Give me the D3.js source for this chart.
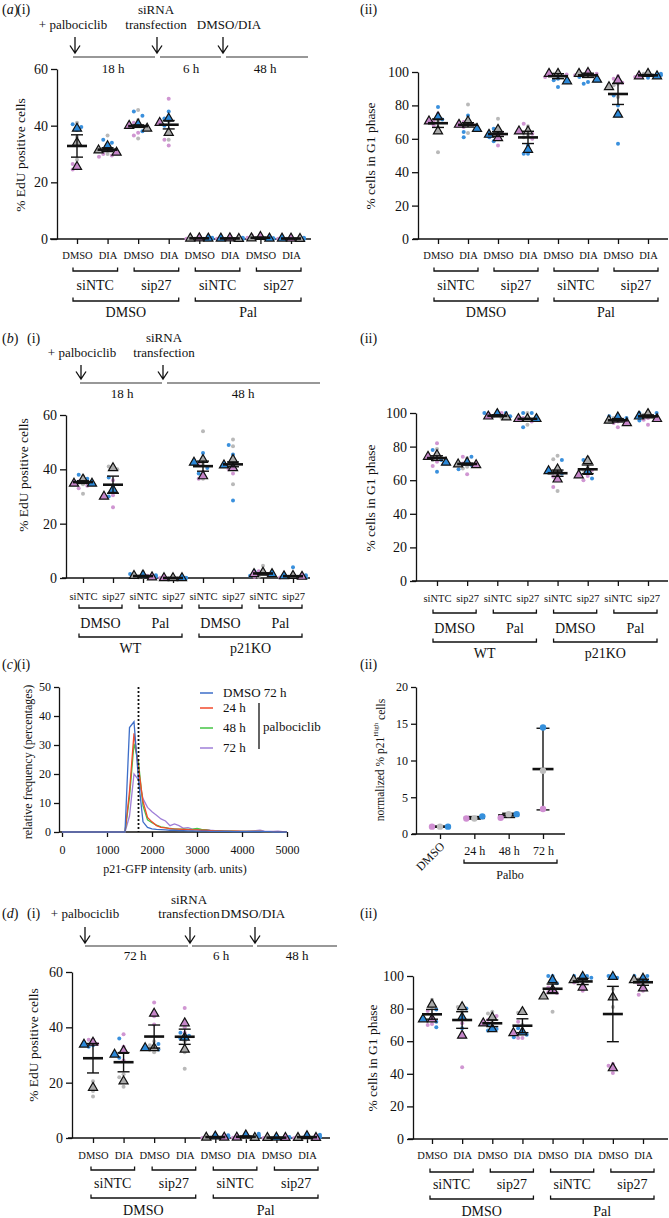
<!DOCTYPE html>
<html>
<head>
<meta charset="utf-8">
<script src="https://cdn.jsdelivr.net/npm/d3@7"></script>
<style>
  body { margin: 0; background: #fff; }
  svg { display: block; font-family: "Liberation Serif", "Times New Roman", serif; }
</style>
</head>
<body>
<svg id="fig" width="669" height="1218"></svg>
<script>
// ---- data ----
// replicate order everywhere: gray, pink, blue
const repNames = ['gray', 'pink', 'blue'];

const aTicks = ['DMSO', 'DIA', 'DMSO', 'DIA', 'DMSO', 'DIA', 'DMSO', 'DIA'];
const aGroups = ['siNTC', 'sip27', 'siNTC', 'sip27'];
const aTreat = ['DMSO', 'Pal'];
const bTicks = ['siNTC', 'sip27', 'siNTC', 'sip27', 'siNTC', 'sip27', 'siNTC', 'sip27'];
const bGroups = ['DMSO', 'Pal', 'DMSO', 'Pal'];
const bLines = ['WT', 'p21KO'];

const edu = '% EdU positive cells';
const g1 = '% cells in G1 phase';

const aSteps = ['+ palbociclib', ['siRNA', 'transfection'], 'DMSO/DIA'];
const aDurs = ['18 h', '6 h', '48 h'];
const bSteps = ['+ palbociclib', ['siRNA', 'transfection']];
const bDurs = ['18 h', '48 h'];
const dSteps = ['+ palbociclib', ['siRNA', 'transfection'], 'DMSO/DIA'];
const dDurs = ['72 h', '6 h', '48 h'];

// (a)(i) replicate means [gray, pink, blue] per condition
const a1Tri = [[34, 25.5, 39], [31.3, 30.5, 32.8], [39, 40, 40.5], [37.5, 41, 42.5],
  [0.2, 0.3, 0.2], [0.1, 0.3, 0.2], [0.3, 0.8, 0.2], [0.1, 0.2, 0.2]];
const a1Dots = [
  [[41, 36, 28], [26.5, 25, 24.5], [40.5, 39.5, 38.5]],
  [[36.5, 33, 30], [30, 29.5, 29], [35, 34, 31]],
  [[45.5, 42, 35.5], [41, 37.5, 36.5], [45, 43.5, 38]],
  [[41.5, 38, 35], [49.5, 35, 33], [45, 42.5, 40]],
  [[0.5, 0.2, 0.1], [0.6, 0.3, 0.1], [0.4, 0.2, 0.1]],
  [[0.3, 0.1, 0], [0.5, 0.3, 0.1], [0.4, 0.2, 0]],
  [[0.5, 0.2, 0.1], [1.2, 0.7, 0.4], [0.3, 0.2, 0.1]],
  [[0.2, 0.1, 0], [0.3, 0.2, 0.1], [0.4, 0.2, 0]]];

// (a)(ii)
const a2Tri = [[64.5, 70.5, 73], [70.5, 68.5, 66], [65.5, 60.5, 62.5], [64.5, 64.5, 53.5],
  [99, 99, 94.5], [99, 99.5, 95.5], [91, 95, 74.5], [99, 97.5, 97.5]];
const a2Dots = [
  [[71, 67, 52], [75, 71, 68], [79, 71.5, 70]],
  [[80.5, 69, 63.5], [70, 67, 68.5], [74, 64, 61]],
  [[72, 64, 62], [63, 60, 56], [66, 61, 58.5]],
  [[67.5, 62, 61], [69, 63, 60], [56, 51, 51]],
  [[99.5, 99, 98], [99, 98.5, 97], [96, 95, 91]],
  [[99, 98.5, 98], [100, 99, 98], [97, 94, 93]],
  [[93, 92, 85], [97.5, 96, 93.5], [86, 80, 57]],
  [[99.5, 99, 98], [98.5, 98, 97], [99, 98, 96.5]]];

// (b)(i)
const b1Tri = [[36.3, 34.8, 34.8], [40.5, 30, 32.5], [0.8, 0.3, 1.0], [0, 0, 0],
  [43.5, 37.5, 42.5], [43.5, 40.5, 41.5], [2, 1.5, 1.5], [0.8, 0.5, 0.7]];
const b1Dots = [
  [[37.5, 34.5, 31], [35.5, 34, 33], [38, 36.5, 35.5]],
  [[41, 41, 40], [36, 30.5, 26], [37, 34, 30]],
  [[2.2, 0.5, 0.2], [0.8, 0.3, 0.1], [1.5, 1, 0.5]],
  [[0.1, 0, 0], [0.1, 0, 0], [0.1, 0, 0]],
  [[54, 42, 36.5], [42, 39, 36.5], [46, 40.5, 38.5]],
  [[51, 48.5, 34.5], [41, 40, 38.5], [49, 45.5, 28.5]],
  [[4.5, 2, 0.5], [2.5, 1.5, 0.5], [2.5, 1.5, 0.8]],
  [[1.5, 0.5, 0.2], [1, 0.5, 0.2], [4, 1, 0.2]]];

// (b)(ii)
const b2Tri = [[75, 74, 70.5], [69.5, 69, 70.5], [97.5, 98, 99.5], [96.5, 96.5, 96.5],
  [66.5, 60.5, 65.5], [71.5, 63, 65], [95.5, 94, 97.5], [99.5, 96.5, 98]];
const b2Dots = [
  [[78.5, 74, 72], [82, 71, 68.5], [78, 72, 65]],
  [[73, 68, 67], [74, 70, 63.5], [74, 69, 66.5]],
  [[99, 98, 97], [100, 99.5, 97], [100, 100, 98]],
  [[100, 96, 93], [97, 95, 96], [100, 100, 91.5]],
  [[74.5, 72.5, 53.5], [63, 62, 56], [72, 66, 64]],
  [[73.5, 68, 66], [66, 62.5, 60], [72, 64, 61]],
  [[98.5, 97, 96], [95, 94, 91.5], [98, 97, 95]],
  [[100, 99, 98], [97, 96, 93], [100, 100, 95.5]]];

// (c)(i) histogram of p21-GFP intensity
const cBins = [0, 1400, 1500, 1600, 1700, 1800, 1900, 2000, 2100, 2200, 2300, 2400, 2500, 2600,
  2700, 2800, 2900, 3000, 3100, 3200, 3300, 3400, 3500, 3600, 3700, 3800, 3900, 4000, 4100,
  4200, 4300, 4400, 4500, 4600, 4700, 4800, 4900, 5000];
const cDmso72 = [0, 0, 36, 38, 18, 3.5, 1.6, 1.1, 0.9, 0.8, 0.7, 0.6, 0.6, 0.5, 0.5, 0.4, 0.4, 0.3,
  0.3, 0.3, 0.2, 0.2, 0.2, 0.2, 0.2, 0.1, 0.1, 0.1, 0.1, 0.1, 0.1, 0.1, 0.1, 0.1, 0, 0, 0, 0];
const cPal24 = [0, 0, 14, 34, 22, 10.5, 5, 3.5, 2.2, 1.6, 1.4, 1.2, 1.0, 1.0, 0.9, 0.8, 0.7, 0.7,
  0.6, 0.6, 0.5, 0.4, 0.4, 0.3, 0.3, 0.3, 0.3, 0.2, 0.2, 0.2, 0.2, 0.2, 0.1, 0.1, 0.1, 0.1, 0.1, 0];
const cPal48 = [0, 0, 12, 30.5, 24, 9, 4.2, 3.2, 2.4, 1.8, 1.5, 1.2, 1.1, 1.0, 1.0, 0.9, 1.0, 1.2,
  0.9, 0.7, 0.5, 0.4, 0.4, 0.3, 0.3, 0.3, 0.2, 0.2, 0.2, 0.2, 0.2, 0.2, 0.1, 0.1, 0.1, 0.1, 0.1, 0];
const cPal72 = [0, 0, 5.5, 20, 18, 11.5, 8.5, 7, 5.8, 4.5, 3.8, 2.2, 2.8, 2.2, 1.3, 1.5, 1.0, 0.8,
  0.8, 0.8, 0.6, 0.5, 0.5, 0.4, 0.3, 0.3, 0.3, 0.3, 0.3, 0.4, 0.5, 0.6, 0.3, 0.2, 0.2, 0.3, 0.1, 0];
const cSeriesNames = ['DMSO 72 h', '24 h', '48 h', '72 h'];
const cGate = 1700;

// (c)(ii)
const c2Cats = ['DMSO', '24 h', '48 h', '72 h'];
const c2Vals = [[1, 1, 1], [2.1, 2.1, 2.4], [2.7, 2.2, 2.7], [8.6, 3.4, 14.5]];

// (d)(i)
const d1Tri = [[18.2, 34.5, 33.8], [20.5, 31.5, 30.2], [32.5, 45, 32.5], [32, 41.5, 36.3],
  [0.2, 0.2, 0.6], [0.1, 0.2, 1.0], [0.1, 0.1, 0.2], [0.1, 0.1, 0.7]];
const d1Dots = [
  [[20.5, 17, 15], [35.5, 35.5, 34], [34, 33.5, 33]],
  [[23, 22, 18.5], [37.5, 33, 28], [36, 31, 29]],
  [[35, 33.5, 31], [49, 44, 41], [34, 33, 32]],
  [[35, 31, 25], [47, 40, 38], [38, 37, 36]],
  [[0.3, 0.1, 0], [0.4, 0.2, 0], [1, 0.6, 0.2]],
  [[0.2, 0.1, 0], [0.3, 0.2, 0.1], [1.5, 1, 0.5]],
  [[0.2, 0.1, 0], [0.2, 0.1, 0], [0.4, 0.2, 0.1]],
  [[0.2, 0.1, 0], [0.2, 0.1, 0], [1.2, 0.7, 0.3]]];

// (d)(ii)
const d2Tri = [[82.5, 73.5, 73.5], [81, 63.5, 74.5], [74.5, 71, 67.5], [78, 65, 65.5],
  [87.5, 91.5, 97.5], [97.5, 93, 99.5], [87, 43.5, 99.5], [97.5, 92.5, 98.5]];
const d2Dots = [
  [[85.5, 81, 75], [78.5, 70.5, 70], [79.5, 72, 68.5]],
  [[81.5, 81, 78], [71, 65, 44], [80, 74, 68]],
  [[78, 77, 72], [75.5, 73, 69], [70, 67.5, 66.5]],
  [[78, 77.5, 70], [72, 62, 62], [68, 64, 62.5]],
  [[95, 91, 78], [93, 90, 89.5], [100, 100, 95.5]],
  [[98, 98, 97], [96, 95, 91], [100, 100, 99]],
  [[92, 88, 81], [46, 45, 40.5], [100, 100, 99]],
  [[99, 98, 96], [95, 91, 88.5], [100, 100, 97]]];

// ---- styles ----
const triFill = { gray: '#a9a9a9', pink: '#c585c8', blue: '#2b88d8' };
const dotFill = { gray: '#b9b9b9', pink: '#d096d2', blue: '#3a90dd' };
const c2Fill = { gray: '#bdbdbd', pink: '#d08fd2', blue: '#3590dc' };
const lineCols = ['#3d6ec8', '#f24a2c', '#45c545', '#9f7fd8'];
const INK = '#111';

const svg = d3.select('#fig');

function txt(s, x, y, size, anchor = 'middle', g = svg) {
  return g.append('text').attr('x', x).attr('y', y).attr('font-size', size)
    .attr('text-anchor', anchor).attr('fill', INK).text(s);
}

function panelLabel(letter, roman, x, xr, y) {
  if (letter) {
    const t = svg.append('text').attr('x', x).attr('y', y).attr('font-size', 14).attr('fill', INK);
    t.append('tspan').text('(');
    t.append('tspan').attr('font-style', 'italic').text(letter);
    t.append('tspan').text(')');
  }
  txt('(' + roman + ')', xr, y, 14, 'start');
}

function styleAxis(a, size) {
  a.selectAll('path, line').attr('stroke', INK).attr('stroke-width', 1.3);
  a.selectAll('text').attr('font-family', null).attr('font-size', size).attr('fill', INK);
  a.attr('font-family', null);
}

// tiny beeswarm: keeps the markers of one column from sitting on each other
function swarm(items, y, step, minD, maxK) {
  const placed = [];
  items.forEach(it => {
    it.py = y(it.v);
    let off = 0;
    for (let k = 0; k <= maxK * 2; k++) {
      const c = k === 0 ? 0 : (k % 2 ? -1 : 1) * Math.ceil(k / 2) * step;
      off = c;
      if (placed.every(q => Math.hypot(q.dx - c, q.py - it.py) >= minD)) break;
    }
    it.dx = off;
    placed.push(it);
  });
  return items;
}

function bracket(g, xa, xb, yy) {
  g.append('path').attr('d', `M${xa},${yy - 3.5}V${yy}H${xb}V${yy - 3.5}`)
    .attr('fill', 'none').attr('stroke', INK).attr('stroke-width', 1.3);
}

function superplot(P, ticks, groups, treat, tri, dots, title) {
  const g = svg.append('g');
  const y = d3.scaleLinear().domain([0, P.max]).range([P.yBot, P.yTop]);
  const x = d3.scalePoint().domain(d3.range(ticks.length)).range([P.x0, P.x1]);

  const ya = g.append('g').attr('transform', `translate(${P.ax},0)`)
    .call(d3.axisLeft(y).tickValues(d3.range(0, P.max + 1, P.step))
      .tickSize(6).tickSizeOuter(0).tickPadding(3));
  styleAxis(ya, 14);

  const xa = g.append('g').attr('transform', `translate(0,${P.yBot})`)
    .call(d3.axisBottom(x).tickSize(5).tickFormat(i => ticks[i]));
  xa.select('.domain').remove();
  styleAxis(xa, 10.5);
  xa.selectAll('text').attr('y', P.tickY - P.yBot).attr('dy', 0);
  g.append('line').attr('x1', P.xl).attr('x2', P.xr).attr('y1', P.yBot).attr('y2', P.yBot)
    .attr('stroke', INK).attr('stroke-width', 1.3);

  tri.forEach((vals, i) => {
    const cx = x(i);
    const ds = swarm(dots[i].flatMap((arr, r) => arr.map(v => ({ r: repNames[r], v }))), y, 4.3, 4.3, 3);
    g.append('g').selectAll('circle').data(ds).join('circle')
      .attr('cx', d => cx + d.dx).attr('cy', d => d.py).attr('r', 2)
      .attr('fill', d => dotFill[d.r]);

    const ts = swarm(vals.map((v, r) => ({ r: repNames[r], v })).sort((a, b) => b.v - a.v), y, 9, 8, 2);
    g.append('g').selectAll('path').data(ts).join('path')
      .attr('transform', d => `translate(${cx + d.dx},${d.py})`)
      .attr('d', d3.symbol(d3.symbolTriangle, 36))
      .attr('fill', d => triFill[d.r]).attr('stroke', INK).attr('stroke-width', 1.2);

    const m = d3.mean(vals);
    const se = d3.deviation(vals) / Math.sqrt(vals.length);
    const eb = g.append('g').attr('stroke', INK);
    eb.append('line').attr('x1', cx).attr('x2', cx).attr('y1', y(m - se)).attr('y2', y(m + se)).attr('stroke-width', 1.4);
    [m - se, m + se].forEach(v => eb.append('line').attr('x1', cx - 6).attr('x2', cx + 6)
      .attr('y1', y(v)).attr('y2', y(v)).attr('stroke-width', 1.4));
    eb.append('line').attr('x1', cx - 10).attr('x2', cx + 10).attr('y1', y(m)).attr('y2', y(m)).attr('stroke-width', 2.6);
  });

  groups.forEach((s, k) => {
    const a = x(2 * k) + P.offL, b = x(2 * k + 1) + P.offR;
    bracket(g, a, b, P.b1);
    txt(s, (a + b) / 2, P.b1t, 14, 'middle', g);
  });
  treat.forEach((s, k) => {
    const a = x(4 * k) + P.offL, b = x(4 * k + 3) + P.offR;
    bracket(g, a, b, P.b2);
    txt(s, (a + b) / 2, P.b2t, 14, 'middle', g);
  });

  g.append('text').attr('transform', `translate(${P.ylx},${P.yly}) rotate(-90)`)
    .attr('text-anchor', 'middle').attr('dy', '0.35em').attr('font-size', 13.5)
    .attr('fill', INK).text(title);
}

function timeline(steps, durs, L) {
  const g = svg.append('g');
  steps.forEach((s, i) => {
    if (Array.isArray(s)) {
      txt(s[0], L.stepX[i], L.topY, 13, 'middle', g);
      txt(s[1], L.stepX[i], L.stepY, 13, 'middle', g);
    } else {
      txt(s, L.stepX[i], L.stepY, 13, 'middle', g);
    }
  });
  L.arrowX.forEach(ax => {
    g.append('path')
      .attr('d', `M${ax},${L.aTop}V${L.aBot}M${ax - 5},${L.aBot - 7.5}L${ax},${L.aBot}L${ax + 5},${L.aBot - 7.5}`)
      .attr('fill', 'none').attr('stroke', INK).attr('stroke-width', 1.3);
  });
  L.segs.forEach(s => g.append('line').attr('x1', s[0]).attr('x2', s[1])
    .attr('y1', L.lineY).attr('y2', L.lineY).attr('stroke', '#333').attr('stroke-width', 1.2));
  durs.forEach((s, i) => txt(s, L.durX[i], L.durY, 13, 'middle', g));
}

// ---- (a) ----
panelLabel('a', 'i', 2, 17, 14);
panelLabel(null, 'ii', 0, 360, 14);
timeline(aSteps, aDurs, {
  stepX: [73, 156, 229], topY: 14, stepY: 29,
  arrowX: [75, 157, 223], aTop: 37, aBot: 53,
  lineY: 57, segs: [[73, 155], [160, 221], [226, 308]],
  durX: [113, 191, 265], durY: 73
});
superplot({ ax: 57, yBot: 239, yTop: 69, max: 60, step: 20, x0: 77, x1: 291, xl: 50, xr: 311,
  tickY: 258.7, b1: 271, b1t: 290, b2: 301, b2t: 316.5, offL: -4, offR: 10, ylx: 20, yly: 155 },
  aTicks, aGroups, aTreat, a1Tri, a1Dots, edu);
superplot({ ax: 418, yBot: 239, yTop: 72, max: 100, step: 20, x0: 438, x1: 648, xl: 413, xr: 668,
  tickY: 258.7, b1: 271, b1t: 290, b2: 301, b2t: 316.5, offL: -4, offR: 10, ylx: 370, yly: 156 },
  aTicks, aGroups, aTreat, a2Tri, a2Dots, g1);

// ---- (b) ----
panelLabel('b', 'i', 2, 27, 343);
panelLabel(null, 'ii', 0, 360, 343);
timeline(bSteps, bDurs, {
  stepX: [82, 164], topY: 342, stepY: 357,
  arrowX: [81, 163], aTop: 365, aBot: 379,
  lineY: 383, segs: [[80, 162], [167, 320]],
  durX: [122, 243], durY: 398
});
superplot({ ax: 66, yBot: 578, yTop: 415, max: 60, step: 20, x0: 83, x1: 293, xl: 62, xr: 310,
  tickY: 599.7, b1: 608, b1t: 628, b2: 637, b2t: 653, offL: -4, offR: 9, ylx: 23, yly: 475 },
  bTicks, bGroups, bLines, b1Tri, b1Dots, edu);
superplot({ ax: 416, yBot: 581, yTop: 413, max: 100, step: 20, x0: 437, x1: 648, xl: 412, xr: 668,
  tickY: 601.7, b1: 613, b1t: 633, b2: 642, b2t: 658, offL: -4, offR: 9, ylx: 370, yly: 498 },
  bTicks, bGroups, bLines, b2Tri, b2Dots, g1);

// ---- (c)(i) ----
panelLabel('c', 'i', 2, 17, 669);
{
  const g = svg.append('g');
  const x = d3.scaleLinear().domain([0, 5000]).range([62, 287]);
  const y = d3.scaleLinear().domain([0, 50]).range([832, 687]);
  const ya = g.append('g').attr('transform', 'translate(59,0)')
    .call(d3.axisLeft(y).tickValues(d3.range(0, 51, 10)).tickSize(5).tickSizeOuter(0).tickPadding(3));
  styleAxis(ya, 12);
  const xa = g.append('g').attr('transform', 'translate(0,832)')
    .call(d3.axisBottom(x).tickValues(d3.range(0, 5001, 1000)).tickFormat(d3.format('d'))
      .tickSize(5).tickPadding(8));
  xa.select('.domain').remove();
  styleAxis(xa, 12);
  g.append('line').attr('x1', 59).attr('x2', 287).attr('y1', 832).attr('y2', 832)
    .attr('stroke', INK).attr('stroke-width', 1.3);

  const line = d3.line().x((d, i) => x(cBins[i])).y(d => y(d));
  const series = [cDmso72, cPal24, cPal48, cPal72];
  [3, 2, 1, 0].forEach(k => g.append('path').attr('d', line(series[k]))
    .attr('fill', 'none').attr('stroke', lineCols[k]).attr('stroke-width', 1.3));
  g.append('line').attr('x1', x(cGate)).attr('x2', x(cGate)).attr('y1', y(50)).attr('y2', y(0))
    .attr('stroke', INK).attr('stroke-width', 1.8).attr('stroke-dasharray', '2,2');

  const rows = [697, 712, 732, 752];
  cSeriesNames.forEach((s, k) => {
    g.append('line').attr('x1', 200).attr('x2', 213).attr('y1', rows[k] - 4).attr('y2', rows[k] - 4)
      .attr('stroke', lineCols[k]).attr('stroke-width', 1.5);
    txt(s, 223, rows[k], 13, 'start', g);
  });
  g.append('line').attr('x1', 259).attr('x2', 259).attr('y1', 703).attr('y2', 749)
    .attr('stroke', INK).attr('stroke-width', 1.3);
  txt('palbociclib', 263, 731, 13, 'start', g);

  txt('p21-GFP intensity (arb. units)', 175, 873, 12, 'middle', g);
  g.append('text').attr('transform', 'translate(28,762) rotate(-90)').attr('text-anchor', 'middle')
    .attr('dy', '0.35em').attr('font-size', 12).attr('fill', INK).text('relative frequency (percentages)');
}

// ---- (c)(ii) ----
panelLabel(null, 'ii', 0, 360, 669);
{
  const g = svg.append('g');
  const y = d3.scaleLinear().domain([0, 20]).range([834, 687]);
  const x = d3.scalePoint().domain(d3.range(c2Cats.length)).range([440, 543]);
  const ya = g.append('g').attr('transform', 'translate(416,0)')
    .call(d3.axisLeft(y).tickValues(d3.range(0, 21, 5)).tickSize(5).tickSizeOuter(0).tickPadding(3));
  styleAxis(ya, 12);
  const xa = g.append('g').attr('transform', 'translate(0,834)')
    .call(d3.axisBottom(x).tickSize(5).tickFormat(i => c2Cats[i]));
  xa.select('.domain').remove();
  styleAxis(xa, 12);
  xa.selectAll('text').attr('y', 21).attr('dy', 0);
  xa.selectAll('.tick').filter(i => i === 0).select('text')
    .attr('text-anchor', 'end').attr('y', 0)
    .attr('transform', 'translate(5,13) rotate(-45)');
  g.append('line').attr('x1', 412).attr('x2', 565).attr('y1', 834).attr('y2', 834)
    .attr('stroke', INK).attr('stroke-width', 1.3);

  c2Vals.forEach((vals, i) => {
    const cx = x(i);
    const m = d3.mean(vals), sd = d3.deviation(vals);
    const eb = g.append('g').attr('stroke', INK);
    eb.append('line').attr('x1', cx).attr('x2', cx).attr('y1', y(m - sd)).attr('y2', y(m + sd)).attr('stroke-width', 1.4);
    [m - sd, m + sd].forEach(v => eb.append('line').attr('x1', cx - 6.5).attr('x2', cx + 6.5)
      .attr('y1', y(v)).attr('y2', y(v)).attr('stroke-width', 1.4));
    eb.append('line').attr('x1', cx - 10.5).attr('x2', cx + 10.5).attr('y1', y(m)).attr('y2', y(m)).attr('stroke-width', 2.6);
    const pts = swarm(vals.map((v, r) => ({ r: repNames[r], v })), y, 8, 6.5, 2);
    g.append('g').selectAll('circle').data(pts).join('circle')
      .attr('cx', d => cx + d.dx).attr('cy', d => d.py).attr('r', 3.2)
      .attr('fill', d => c2Fill[d.r]);
  });
  bracket(g, 464, 557, 863);
  txt('Palbo', 510, 879, 12, 'middle', g);

  const t = g.append('text').attr('transform', 'translate(380,760) rotate(-90)')
    .attr('text-anchor', 'middle').attr('dy', '0.35em').attr('font-size', 11.5).attr('fill', INK);
  t.append('tspan').text('normalized % p21');
  t.append('tspan').attr('font-size', 7).attr('dy', '-0.8em').text('High');
  t.append('tspan').attr('dy', '0.55em').text(' cells');
}

// ---- (d) ----
panelLabel('d', 'i', 2, 27, 918);
panelLabel(null, 'ii', 0, 360, 918);
timeline(dSteps, dDurs, {
  stepX: [85, 189, 253], topY: 904, stepY: 918,
  arrowX: [85, 190, 255], aTop: 927, aBot: 943,
  lineY: 946, segs: [[85, 188], [192, 253], [257, 337]],
  durX: [135, 221, 297], durY: 960
});
superplot({ ax: 72, yBot: 1138, yTop: 972, max: 60, step: 20, x0: 93, x1: 307, xl: 68, xr: 330,
  tickY: 1158.7, b1: 1170, b1t: 1188, b2: 1198, b2t: 1215, offL: -2, offR: 11, ylx: 33, yly: 1045 },
  aTicks, aGroups, aTreat, d1Tri, d1Dots, edu);
superplot({ ax: 413, yBot: 1139, yTop: 976, max: 100, step: 20, x0: 432, x1: 643, xl: 408, xr: 668,
  tickY: 1158.7, b1: 1172, b1t: 1189, b2: 1199, b2t: 1216, offL: -2, offR: 11, ylx: 372, yly: 1058 },
  aTicks, aGroups, aTreat, d2Tri, d2Dots, g1);
</script>
</body>
</html>
